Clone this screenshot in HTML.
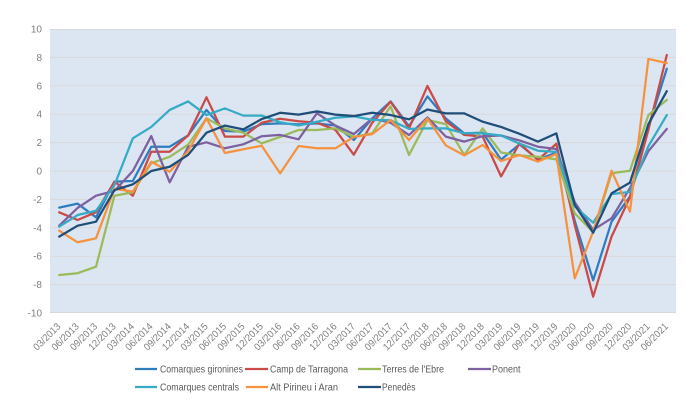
<!DOCTYPE html>
<html>
<head>
<meta charset="utf-8">
<style>
html,body{margin:0;padding:0;background:#fff;}
svg{display:block;}
text{font-family:"Liberation Sans",Arial,sans-serif;}
</style>
</head>
<body>
<svg width="696" height="411" viewBox="0 0 696 411" xmlns="http://www.w3.org/2000/svg">
<rect x="0" y="0" width="696" height="411" fill="#ffffff"/>
<rect x="50" y="29" width="626" height="284" fill="#DCE6F2"/>
<g stroke="#D9D9D9" stroke-width="1">
<line x1="50" x2="676" y1="29.5" y2="29.5"/>
<line x1="50" x2="676" y1="57.4" y2="57.4"/>
<line x1="50" x2="676" y1="85.8" y2="85.8"/>
<line x1="50" x2="676" y1="114.2" y2="114.2"/>
<line x1="50" x2="676" y1="142.6" y2="142.6"/>
<line x1="50" x2="676" y1="171" y2="171"/>
<line x1="50" x2="676" y1="199.4" y2="199.4"/>
<line x1="50" x2="676" y1="227.8" y2="227.8"/>
<line x1="50" x2="676" y1="256.2" y2="256.2"/>
<line x1="50" x2="676" y1="284.6" y2="284.6"/>
<line x1="50" x2="676" y1="312.5" y2="312.5"/>
</g>
<g font-size="10" fill="#7F7F7F" text-anchor="end">
<text x="42" y="32.5">10</text>
<text x="42" y="60.9">8</text>
<text x="42" y="89.3">6</text>
<text x="42" y="117.7">4</text>
<text x="42" y="146.1">2</text>
<text x="42" y="174.5">0</text>
<text x="42" y="202.9">-2</text>
<text x="42" y="231.3">-4</text>
<text x="42" y="259.7">-6</text>
<text x="42" y="288.1">-8</text>
<text x="42" y="316.5">-10</text>
</g>
<g fill="none" stroke-width="2.25" stroke-linejoin="round" stroke-linecap="round" transform="translate(59.2,171) scale(18.412,-14.2)">
<polyline vector-effect="non-scaling-stroke" stroke="#2F7DC0" points="0,-2.58 1,-2.3 2,-3.26 3,-0.75 4,-0.7 5,1.71 6,1.71 7,2.5 8,4.3 9,2.82 10,2.77 11,3.3 12,3.35 13,3.28 14,3.35 15,3.2 16,2.18 17,3.7 18,4.9 19,3.15 20,5.25 21,3.7 22,2.65 23,2.7 24,0.8 25,1.88 26,0.8 27,1.3 28,-3.5 29,-7.7 30,-3.57 31,-1.8 32,3.1 33,7.2"/>
<polyline vector-effect="non-scaling-stroke" stroke="#C94A47" points="0,-2.91 1,-3.45 2,-2.9 3,-0.75 4,-1.74 5,1.36 6,1.36 7,2.5 8,5.19 9,2.42 10,2.42 11,3.4 12,3.68 13,3.5 14,3.4 15,2.9 16,1.15 17,3.4 18,4.88 19,3.0 20,5.99 21,3.5 22,2.54 23,2.42 24,-0.38 25,1.95 26,0.78 27,1.92 28,-3.8 29,-8.85 30,-4.62 31,-1.84 32,2.9 33,8.17"/>
<polyline vector-effect="non-scaling-stroke" stroke="#9BBB59" points="0,-7.32 1,-7.2 2,-6.74 3,-1.74 4,-1.5 5,0.55 6,1.0 7,1.85 8,3.71 9,3.0 10,2.7 11,1.95 12,2.4 13,2.89 14,2.89 15,3.0 16,2.4 17,2.65 18,4.55 19,1.13 20,3.59 21,3.3 22,1.13 23,3.0 24,1.3 25,1.1 26,1.0 27,0.82 28,-2.98 29,-4.3 30,-0.16 31,0.02 32,3.94 33,5.0"/>
<polyline vector-effect="non-scaling-stroke" stroke="#7D60A0" points="0,-3.85 1,-2.6 2,-1.74 3,-1.4 4,0.0 5,2.46 6,-0.8 7,1.7 8,2.02 9,1.6 10,1.88 11,2.45 12,2.54 13,2.23 14,4.07 15,3.2 16,2.6 17,3.7 18,3.4 19,2.53 20,3.77 21,2.42 22,2.07 23,2.45 24,2.5 25,2.15 26,1.71 27,1.55 28,-2.2 29,-4.15 30,-3.33 31,-1.2 32,1.4 33,2.96"/>
<polyline vector-effect="non-scaling-stroke" stroke="#35ABC6" points="0,-3.92 1,-3.1 2,-2.8 3,-1.0 4,2.3 5,3.1 6,4.3 7,4.9 8,3.94 9,4.41 10,3.9 11,3.9 12,3.43 13,3.2 14,3.47 15,3.75 16,3.85 17,3.6 18,3.57 19,2.97 20,3.0 21,3.0 22,2.66 23,2.65 24,2.5 25,1.93 26,1.43 27,1.35 28,-2.5 29,-3.64 30,-1.63 31,-1.47 32,1.75 33,3.94"/>
<polyline vector-effect="non-scaling-stroke" stroke="#F6923E" points="0,-4.2 1,-5.02 2,-4.74 3,-1.25 4,-1.45 5,0.65 6,-0.05 7,1.4 8,3.71 9,1.27 10,1.53 11,1.78 12,-0.17 13,1.76 14,1.6 15,1.6 16,2.4 17,2.6 18,3.59 19,2.18 20,3.7 21,1.8 22,1.1 23,1.83 24,0.7 25,1.13 26,0.66 27,1.2 28,-7.56 29,-4.27 30,0.02 31,-2.86 32,7.89 33,7.6"/>
<polyline vector-effect="non-scaling-stroke" stroke="#1F4E79" points="0,-4.62 1,-3.85 2,-3.57 3,-1.34 4,-0.94 5,0.0 6,0.3 7,1.13 8,2.7 9,3.2 10,2.93 11,3.66 12,4.1 13,3.97 14,4.2 15,3.97 16,3.87 17,4.1 18,3.94 19,3.64 20,4.33 21,4.06 22,4.06 23,3.47 24,3.1 25,2.62 26,2.07 27,2.65 28,-2.39 29,-4.35 30,-1.57 31,-0.82 32,3.3 33,5.62"/>
</g>
<g font-size="10" fill="#7F7F7F" text-anchor="end">
<text transform="translate(61.2,327) rotate(-45)" textLength="34" lengthAdjust="spacingAndGlyphs">03/2013</text>
<text transform="translate(79.6,327) rotate(-45)" textLength="34" lengthAdjust="spacingAndGlyphs">06/2013</text>
<text transform="translate(98.0,327) rotate(-45)" textLength="34" lengthAdjust="spacingAndGlyphs">09/2013</text>
<text transform="translate(116.4,327) rotate(-45)" textLength="34" lengthAdjust="spacingAndGlyphs">12/2013</text>
<text transform="translate(134.8,327) rotate(-45)" textLength="34" lengthAdjust="spacingAndGlyphs">03/2014</text>
<text transform="translate(153.3,327) rotate(-45)" textLength="34" lengthAdjust="spacingAndGlyphs">06/2014</text>
<text transform="translate(171.7,327) rotate(-45)" textLength="34" lengthAdjust="spacingAndGlyphs">09/2014</text>
<text transform="translate(190.1,327) rotate(-45)" textLength="34" lengthAdjust="spacingAndGlyphs">12/2014</text>
<text transform="translate(208.5,327) rotate(-45)" textLength="34" lengthAdjust="spacingAndGlyphs">03/2015</text>
<text transform="translate(226.9,327) rotate(-45)" textLength="34" lengthAdjust="spacingAndGlyphs">06/2015</text>
<text transform="translate(245.3,327) rotate(-45)" textLength="34" lengthAdjust="spacingAndGlyphs">09/2015</text>
<text transform="translate(263.7,327) rotate(-45)" textLength="34" lengthAdjust="spacingAndGlyphs">12/2015</text>
<text transform="translate(282.1,327) rotate(-45)" textLength="34" lengthAdjust="spacingAndGlyphs">03/2016</text>
<text transform="translate(300.6,327) rotate(-45)" textLength="34" lengthAdjust="spacingAndGlyphs">06/2016</text>
<text transform="translate(319.0,327) rotate(-45)" textLength="34" lengthAdjust="spacingAndGlyphs">09/2016</text>
<text transform="translate(337.4,327) rotate(-45)" textLength="34" lengthAdjust="spacingAndGlyphs">12/2016</text>
<text transform="translate(355.8,327) rotate(-45)" textLength="34" lengthAdjust="spacingAndGlyphs">03/2017</text>
<text transform="translate(374.2,327) rotate(-45)" textLength="34" lengthAdjust="spacingAndGlyphs">06/2017</text>
<text transform="translate(392.6,327) rotate(-45)" textLength="34" lengthAdjust="spacingAndGlyphs">09/2017</text>
<text transform="translate(411.0,327) rotate(-45)" textLength="34" lengthAdjust="spacingAndGlyphs">12/2017</text>
<text transform="translate(429.4,327) rotate(-45)" textLength="34" lengthAdjust="spacingAndGlyphs">03/2018</text>
<text transform="translate(447.9,327) rotate(-45)" textLength="34" lengthAdjust="spacingAndGlyphs">06/2018</text>
<text transform="translate(466.3,327) rotate(-45)" textLength="34" lengthAdjust="spacingAndGlyphs">09/2018</text>
<text transform="translate(484.7,327) rotate(-45)" textLength="34" lengthAdjust="spacingAndGlyphs">12/2018</text>
<text transform="translate(503.1,327) rotate(-45)" textLength="34" lengthAdjust="spacingAndGlyphs">03/2019</text>
<text transform="translate(521.5,327) rotate(-45)" textLength="34" lengthAdjust="spacingAndGlyphs">06/2019</text>
<text transform="translate(539.9,327) rotate(-45)" textLength="34" lengthAdjust="spacingAndGlyphs">09/2019</text>
<text transform="translate(558.3,327) rotate(-45)" textLength="34" lengthAdjust="spacingAndGlyphs">12/2019</text>
<text transform="translate(576.7,327) rotate(-45)" textLength="34" lengthAdjust="spacingAndGlyphs">03/2020</text>
<text transform="translate(595.1,327) rotate(-45)" textLength="34" lengthAdjust="spacingAndGlyphs">06/2020</text>
<text transform="translate(613.6,327) rotate(-45)" textLength="34" lengthAdjust="spacingAndGlyphs">09/2020</text>
<text transform="translate(632.0,327) rotate(-45)" textLength="34" lengthAdjust="spacingAndGlyphs">12/2020</text>
<text transform="translate(650.4,327) rotate(-45)" textLength="34" lengthAdjust="spacingAndGlyphs">03/2021</text>
<text transform="translate(668.8,327) rotate(-45)" textLength="34" lengthAdjust="spacingAndGlyphs">06/2021</text>
</g>
<g stroke-width="2.25">
<line x1="135" x2="157" y1="369" y2="369" stroke="#2F7DC0"/>
<line x1="245" x2="268" y1="369" y2="369" stroke="#C94A47"/>
<line x1="358" x2="381" y1="369" y2="369" stroke="#9BBB59"/>
<line x1="468" x2="491" y1="369" y2="369" stroke="#7D60A0"/>
<line x1="135" x2="157" y1="387" y2="387" stroke="#35ABC6"/>
<line x1="246" x2="268" y1="387" y2="387" stroke="#F6923E"/>
<line x1="358" x2="381" y1="387" y2="387" stroke="#1F4E79"/>
</g>
<g font-size="10" fill="#595959">
<text x="160" y="372.5" textLength="83" lengthAdjust="spacingAndGlyphs">Comarques gironines</text>
<text x="270" y="372.5" textLength="78" lengthAdjust="spacingAndGlyphs">Camp de Tarragona</text>
<text x="382" y="372.5" textLength="62" lengthAdjust="spacingAndGlyphs">Terres de l'Ebre</text>
<text x="492" y="372.5" textLength="28.5" lengthAdjust="spacingAndGlyphs">Ponent</text>
<text x="160" y="390.5" textLength="79" lengthAdjust="spacingAndGlyphs">Comarques centrals</text>
<text x="270" y="390.5" textLength="68" lengthAdjust="spacingAndGlyphs">Alt Pirineu i Aran</text>
<text x="382" y="390.5" textLength="33.5" lengthAdjust="spacingAndGlyphs">Penedès</text>
</g>
</svg>
</body>
</html>
